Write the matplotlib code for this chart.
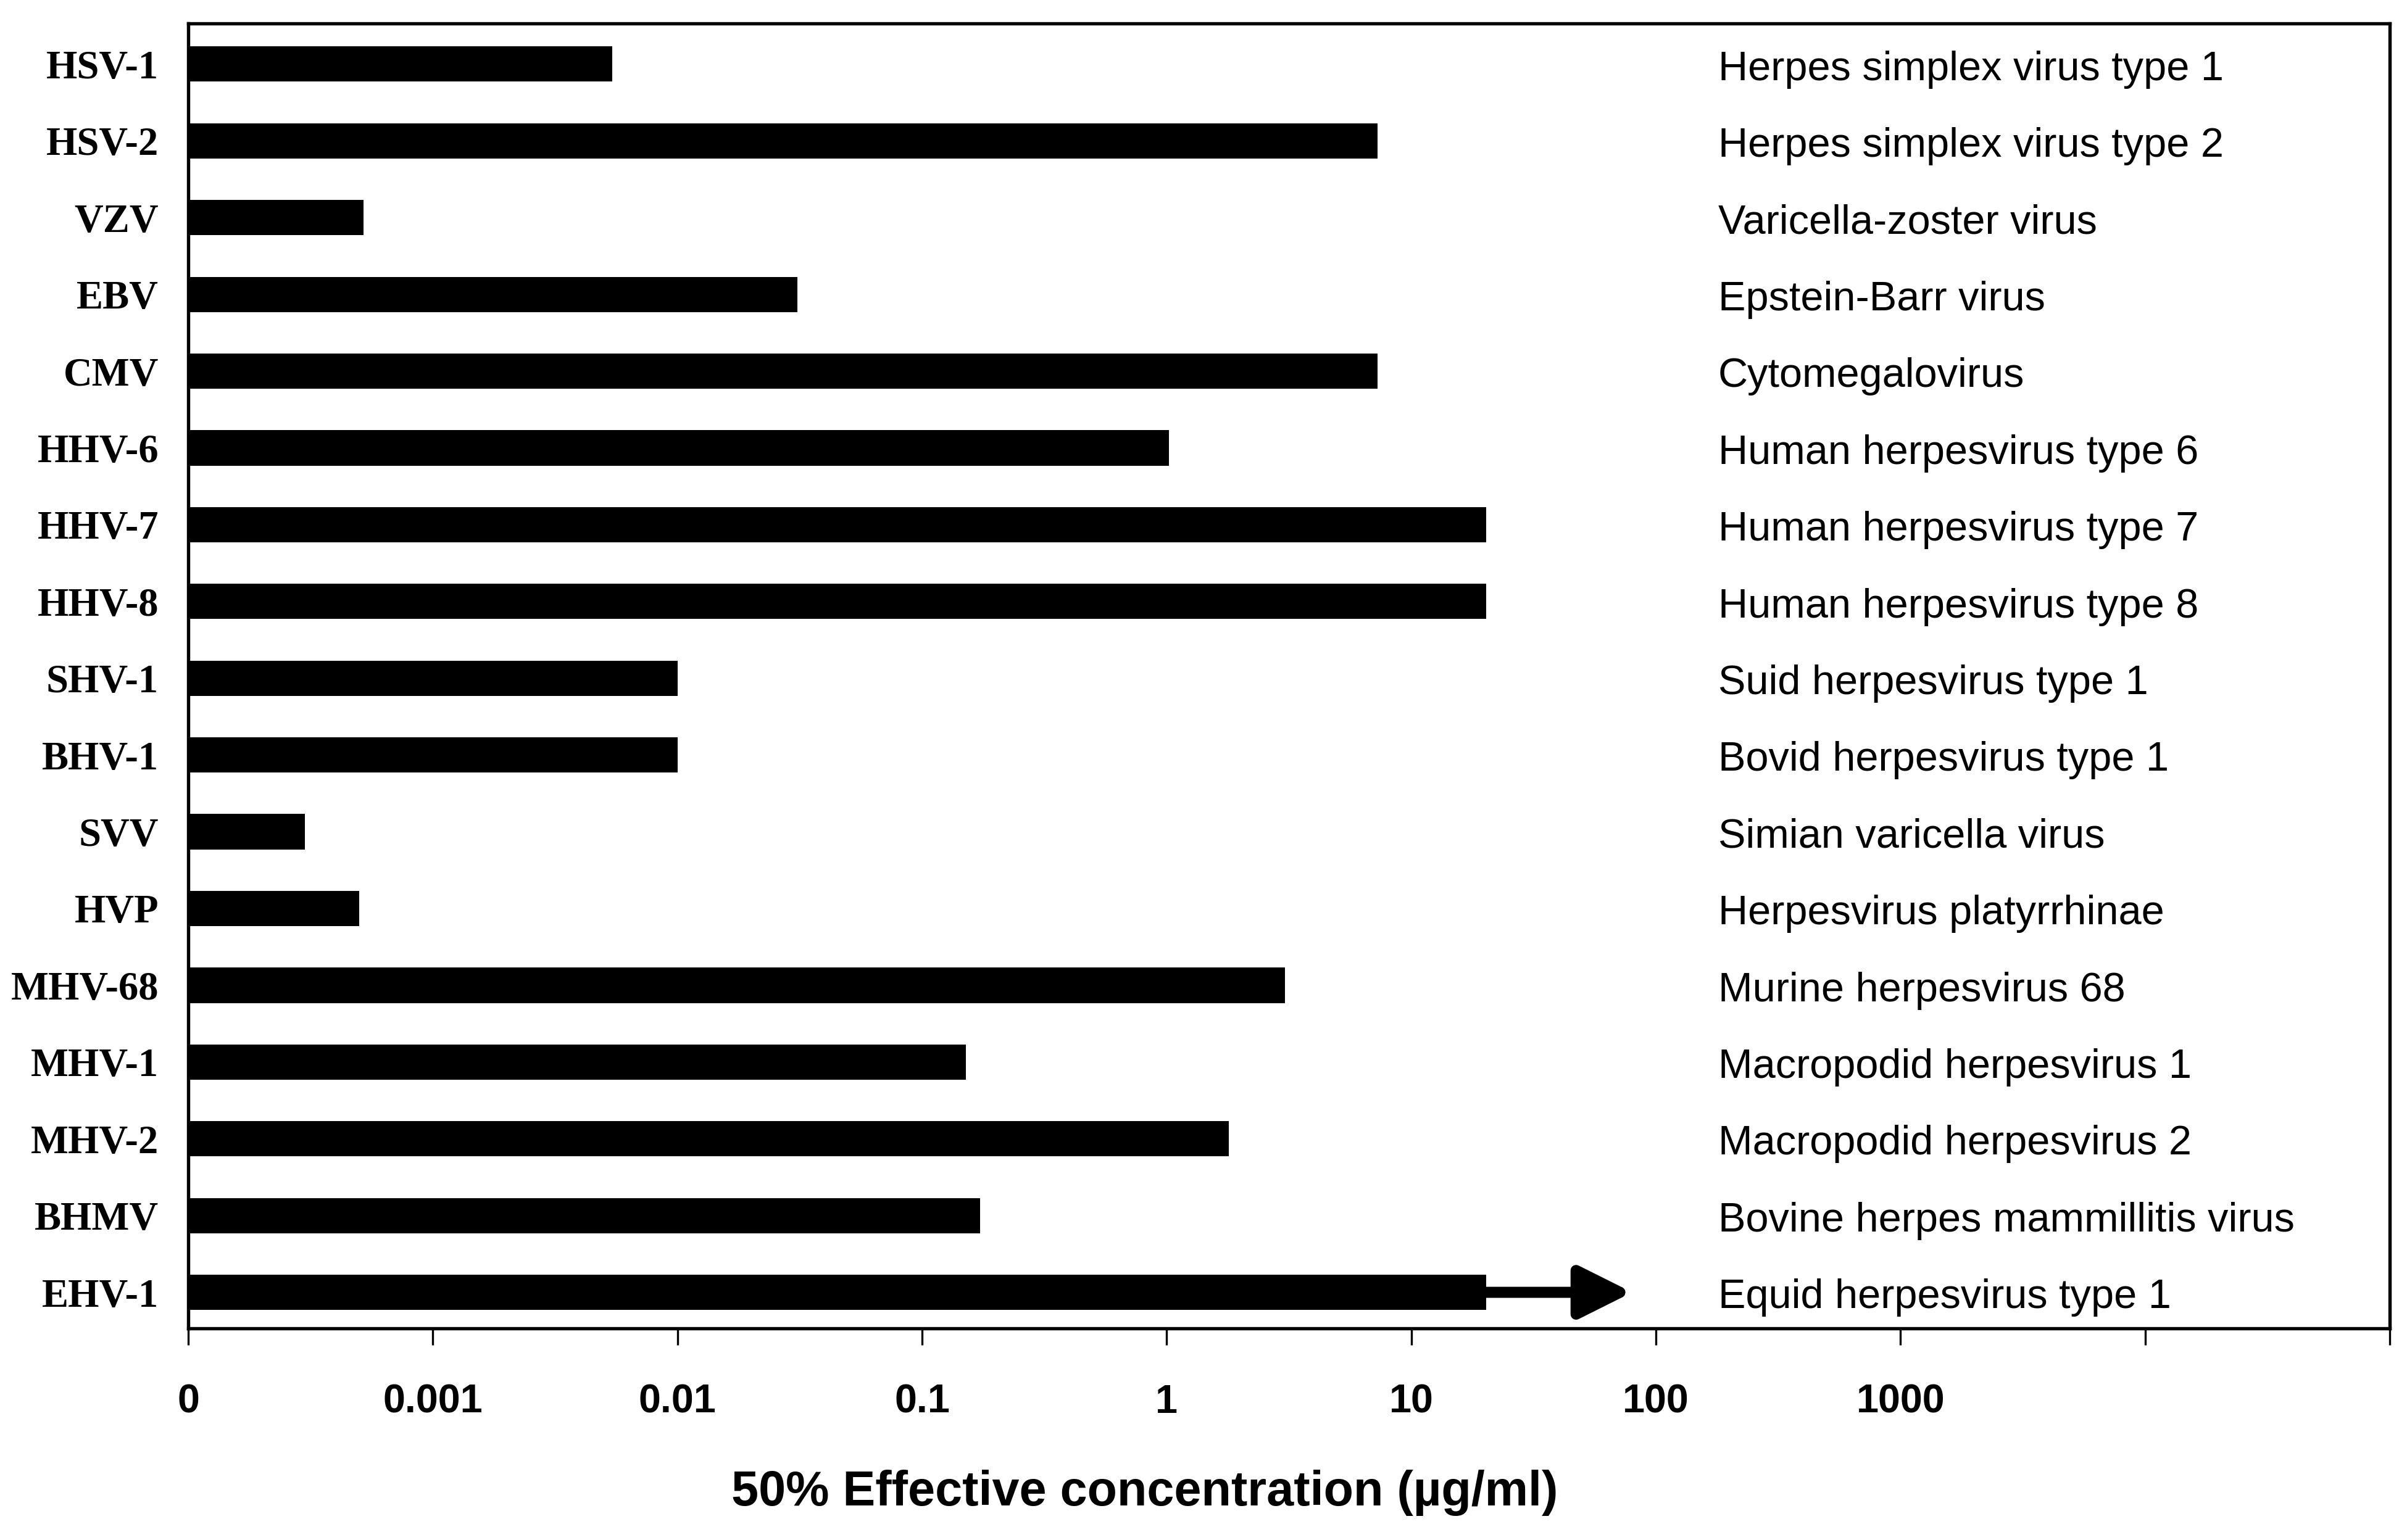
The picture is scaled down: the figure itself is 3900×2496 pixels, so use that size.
import numpy as np
import matplotlib.pyplot as plt

### data ###
abbrev = ["HSV-1", "HSV-2", "VZV", "EBV", "CMV", "HHV-6", "HHV-7", "HHV-8",
          "SHV-1", "BHV-1", "SVV", "HVP", "MHV-68", "MHV-1", "MHV-2", "BHMV", "EHV-1"]
full_names = ["Herpes simplex virus type 1", "Herpes simplex virus type 2",
              "Varicella-zoster virus", "Epstein-Barr virus", "Cytomegalovirus",
              "Human herpesvirus type 6", "Human herpesvirus type 7",
              "Human herpesvirus type 8", "Suid herpesvirus type 1",
              "Bovid herpesvirus type 1", "Simian varicella virus",
              "Herpesvirus platyrrhinae", "Murine herpesvirus 68",
              "Macropodid herpesvirus 1", "Macropodid herpesvirus 2",
              "Bovine herpes mammillitis virus", "Equid herpesvirus type 1"]
ec50 = [0.0054, 7.3, 0.00052, 0.031, 7.3, 1.02, 20.2, 20.2,
        0.01, 0.01, 0.0003, 0.0005, 3.05, 0.151, 1.8, 0.173, 20.2]
arrow_end = 80          # EHV-1 is ">" the tested range
zero_pos = 1e-4         # where the "0" label sits on the log axis
tick_vals = [1e-4, 1e-3, 1e-2, 1e-1, 1, 10, 100, 1000, 1e4, 1e5]
tick_labels = ["0", "0.001", "0.01", "0.1", "1", "10", "100", "1000", "", ""]

sans = "Liberation Sans"
serif = "Liberation Serif"

fig = plt.figure(figsize=(13, 8.32), dpi=300)
ax = fig.add_axes([0.0782, 0.1374, 0.9146, 0.8474])

y = np.arange(len(abbrev))
widths = np.array(ec50) - zero_pos
ax.barh(y, widths, left=zero_pos, height=0.46, color="black")

# arrow for EHV-1
ax.annotate("", xy=(arrow_end, y[-1]), xytext=(ec50[-1], y[-1]),
            arrowprops=dict(arrowstyle="-|>,head_length=1.7,head_width=0.85",
                            lw=4.3, color="black", shrinkA=0, shrinkB=0,
                            mutation_scale=10))

ax.set_xscale("log")
ax.set_xlim(1e-4, 1e5)
ax.set_ylim(len(abbrev) - 0.53, -0.53)

ax.set_xticks(tick_vals)
ax.set_xticklabels(tick_labels, fontfamily=sans, fontweight="bold", fontsize=15.5)
ax.minorticks_off()
ax.tick_params(axis="x", direction="out", length=6.5, width=0.8, pad=15)

ax.set_yticks(y)
ax.set_yticklabels(abbrev, fontfamily=serif, fontweight="bold", fontsize=15.5)
ax.tick_params(axis="y", length=0, pad=11.5)

for s in ax.spines.values():
    s.set_linewidth(1.3)

# full virus names on the right
for yi, name in zip(y, full_names):
    ax.text(0.695, yi + 0.07, name, transform=ax.get_yaxis_transform(),
            ha="left", va="center", fontsize=16, fontfamily=sans)

fig.text(0.4756, 0.0305, "50% Effective concentration (\u00b5g/ml)",
         ha="center", va="center", fontsize=19, fontweight="bold", fontfamily=sans)

fig.savefig("out.png", dpi=300, facecolor="white")
